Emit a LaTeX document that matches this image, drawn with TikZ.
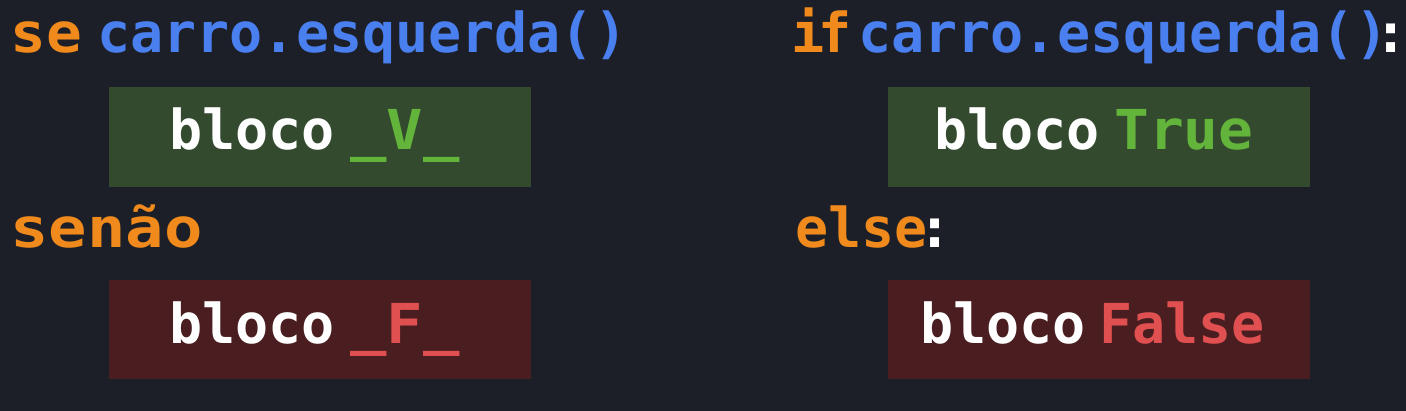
\documentclass[tikz,border=0pt]{standalone}
\usepackage{fontspec}
\usepackage{graphicx}
\setmonofont{DejaVu Sans Mono}
\definecolor{bg}{HTML}{1C1F27}
\definecolor{kworange}{HTML}{F08A1C}
\definecolor{fnblue}{HTML}{4A7FEF}
\definecolor{okgreen}{HTML}{62B43B}
\definecolor{badred}{HTML}{E05050}
\definecolor{gboxfill}{HTML}{344A2F}
\definecolor{rboxfill}{HTML}{4A1D20}
\tikzset{
  code/.style={anchor=base west, inner sep=0pt, font=\ttfamily\bfseries\fontsize{27.5}{30}\selectfont},
  kw/.style={code, text=kworange},
  fn/.style={code, text=fnblue},
  plain/.style={code, text=white},
  colonmark/.style={code, anchor=base, text=white},
  vtrue/.style={code, text=okgreen},
  vfalse/.style={code, text=badred},
  gbox/.style={fill=gboxfill},
  rbox/.style={fill=rboxfill}
}
\begin{document}
\begin{tikzpicture}[x=0.5pt,y=-0.5pt]
\fill[bg] (0,0) rectangle (1406,411);
\useasboundingbox (0,0) rectangle (1406,411);
% boxes
\fill[gbox] (109,87) rectangle (531,187);
\fill[rbox] (109,280) rectangle (531,379);
\fill[gbox] (888,87) rectangle (1310,187);
\fill[rbox] (888,280) rectangle (1310,379);
% left column
\node[kw] (se) at (10,53) {\scalebox{1.08}[1]{se}};
\node[fn] (cond1) at (97,53) {carro.esquerda()};
\node[plain] (b1) at (169,150) {bloco};
\node[vtrue] (v1) at (350,150) {\scalebox{1.1}[1]{\_V\_}};
\node[kw] (senao) at (10,247) {\scalebox{1.16}[1]{senão}};
\node[plain] (b2) at (169,343) {bloco};
\node[vfalse] (f1) at (350,343) {\scalebox{1.1}[1]{\_F\_}};
% right column
\node[kw] (ifk) at (791,53) {i\kern-3pt f};
\node[fn] (cond2) at (858,53) {carro.esquerda()};
\node[colonmark] (colon1) at (1391,53) {\makebox[6pt]{:}};
\node[plain] (b3) at (934,150) {bloco};
\node[vtrue] (tr) at (1114,150) {\scalebox{1.05}[1]{True}};
\node[kw] (elsek) at (795,247) {else};
\node[colonmark] (colon2) at (935,247) {\makebox[6pt]{:}};
\node[plain] (b4) at (920,343) {bloco};
\node[vfalse] (fa) at (1099,343) {False};
\end{tikzpicture}
\end{document}
